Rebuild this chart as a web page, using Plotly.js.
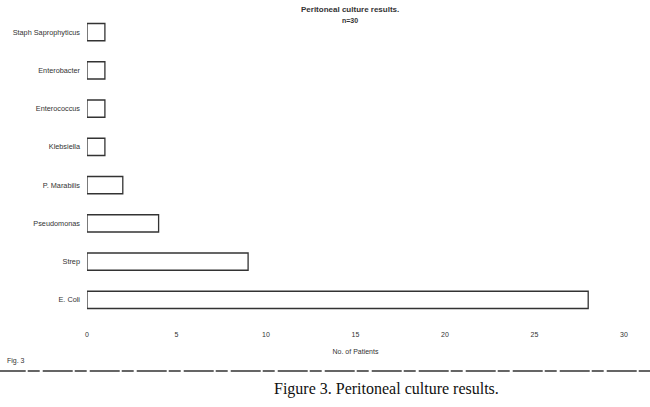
<!DOCTYPE html>
<html><head><meta charset="utf-8">
<script src="https://cdn.plot.ly/plotly-3.0.1.min.js"></script>
<style>html,body{margin:0;padding:0;background:#fff}#c{width:650px;height:407px}</style>
</head><body><div id="c"></div>
<script>
const categories = ["E. Coli","Strep","Pseudomonas","P. Marabilis","Klebsiella","Enterococcus","Enterobacter","Staph Saprophyticus"];
const patients = [28, 9, 4, 2, 1, 1, 1, 1];
const xTicks = [0,5,10,15,20,25,30];

const trace = {
  type: 'bar', orientation: 'h',
  y: categories, x: patients,
  width: 0.45,
  marker: {color: '#ffffff', line: {color: '#333333', width: 1.3}},
  hoverinfo: 'none'
};
const font = {family: 'Liberation Sans, Arial, sans-serif', size: 7, color: '#333'};
const layout = {
  width: 650, height: 407,
  margin: {l: 87, r: 26, t: 13, b: 88},
  paper_bgcolor: '#fff', plot_bgcolor: '#fff',
  showlegend: false,
  font: font,
  xaxis: {range: [0, 30], tickvals: xTicks, showgrid: false, zeroline: false, showline: false,
          ticks: '', tickfont: font, ticklabelstandoff: 10,
          title: {text: 'No. of Patients', font: font, standoff: 12}},
  yaxis: {type: 'category', range: [-0.5, 7.5], showgrid: false, zeroline: false, showline: false,
          ticks: '', tickfont: {family: 'Liberation Sans, Arial, sans-serif', size: 7.3, color: '#333'}, ticklabelstandoff: 6},
  annotations: [
    {xref:'paper', yref:'paper', x: 0.49, y: 1.0, yanchor:'bottom', showarrow:false,
     text:'<b>Peritoneal culture results.</b>', font:{family:'Liberation Sans, Arial, sans-serif', size:8, color:'#333'}, yshift:-3},
    {xref:'paper', yref:'paper', x: 0.49, y: 1.0, yanchor:'top', showarrow:false,
     text:'<b>n=30</b>', font:{family:'Liberation Sans, Arial, sans-serif', size:7, color:'#333'}, yshift:-2},
    {xref:'paper', yref:'paper', x: 0, xanchor:'left', y: 0, yanchor:'middle', showarrow:false,
     text:'Fig. 3', font:font, xshift:-82, yshift:-42},
    {xref:'paper', yref:'paper', x: 0.5, xanchor:'center', y: 0, yanchor:'middle', showarrow:false,
     text:'Figure 3. Peritoneal culture results.', font:{family:'Liberation Serif, Times New Roman, serif', size:16, color:'#111'}, xshift:31, yshift:-70}
  ],
  shapes: [
    {type:'line', xref:'paper', yref:'paper', ysizemode:'pixel', yanchor:0,
     x0:-0.17, x1:1.05, y0:-52, y1:-52, line:{color:'#333', width:1.5, dash:'30px,2px,12px,3px'}}
  ]
};
Plotly.newPlot('c', [trace], layout, {staticPlot: true, displayModeBar: false});
</script></body></html>
